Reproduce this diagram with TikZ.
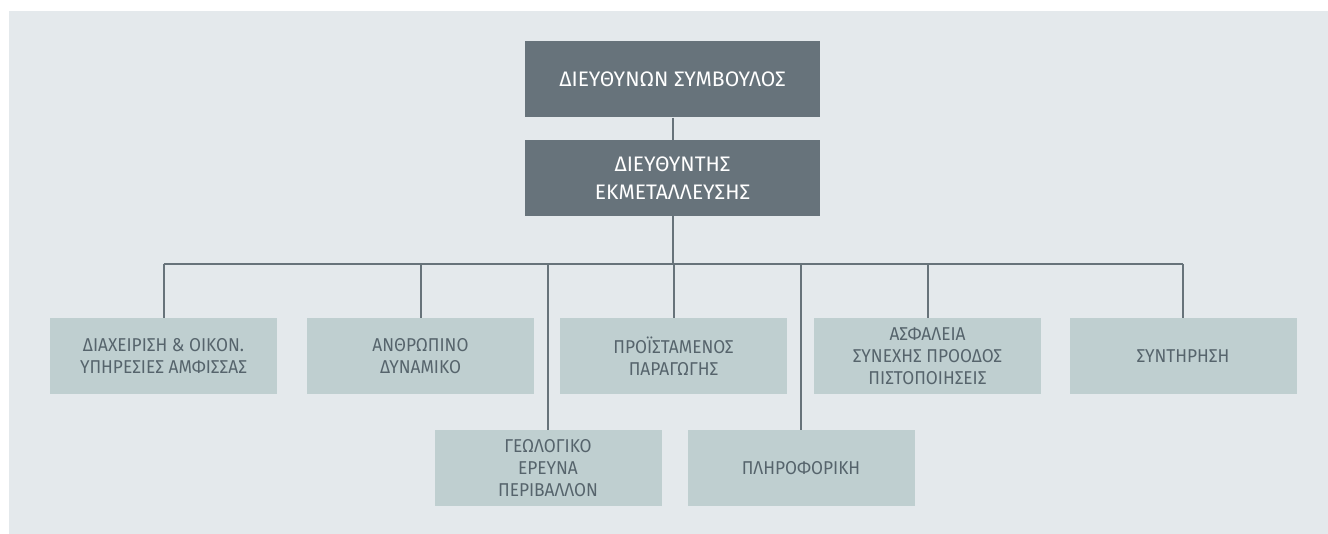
\documentclass[tikz,border=0pt]{standalone}
\usepackage{fontspec}
\setmainfont{Fira Sans}[FakeStretch=0.93]
\newfontfamily\headfont{Fira Sans}
\usepackage{xcolor}
\definecolor{bgcol}{HTML}{E4E9EC}
\definecolor{darkcol}{HTML}{67737B}
\definecolor{lightcol}{HTML}{BFCFD0}
\definecolor{textcol}{HTML}{56646C}
\definecolor{linecol}{HTML}{67737A}

\begin{document}
\begin{tikzpicture}[x=1pt,y=-1pt,
    headbox/.style={fill=darkcol,text=white,minimum width=295pt,minimum height=76pt,
        align=center,inner sep=0pt,font=\headfont\fontsize{21}{28}\selectfont},
    unitbox/.style={fill=lightcol,text=textcol,minimum width=227pt,minimum height=76pt,
        align=center,inner sep=0pt,font=\fontsize{18.6}{22}\selectfont},
    link/.style={draw=linecol,line width=2pt}]
\useasboundingbox (0,0) rectangle (1328,534);
\fill[bgcol] (9,11) rectangle (1328,534);

%top boxes
\node[headbox] (ceo) at (672.5,79.5){ΔΙΕΥΘΥΝΩΝ ΣΥΜΒΟΥΛΟΣ};
\node[headbox] (ops) at (672.5,178){ΔΙΕΥΘΥΝΤΗΣ\\ΕΚΜΕΤΑΛΛΕΥΣΗΣ};
%first row
\node[unitbox] (adm) at (163.5,356){ΔΙΑΧΕΙΡΙΣΗ \& ΟΙΚΟΝ.\\ΥΠΗΡΕΣΙΕΣ ΑΜΦΙΣΣΑΣ};
\node[unitbox] (hr) at (420.5,356){ΑΝΘΡΩΠΙΝΟ\\ΔΥΝΑΜΙΚΟ};
\node[unitbox] (prod) at (673.5,356){ΠΡΟΪΣΤΑΜΕΝΟΣ\\ΠΑΡΑΓΩΓΗΣ};
\node[unitbox] (safe) at (927.5,356){ΑΣΦΑΛΕΙΑ\\ΣΥΝΕΧΗΣ ΠΡΟΟΔΟΣ\\ΠΙΣΤΟΠΟΙΗΣΕΙΣ};
\node[unitbox] (maint) at (1183,356){ΣΥΝΤΗΡΗΣΗ};
%second row
\node[unitbox] (geo) at (548,468){ΓΕΩΛΟΓΙΚΟ\\ΕΡΕΥΝΑ\\ΠΕΡΙΒΑΛΛΟΝ};
\node[unitbox] (it) at (801,468){ΠΛΗΡΟΦΟΡΙΚΗ};

\coordinate (bus) at (672.5,264);
\begin{scope}[link]
%vertical edges
\draw (ceo) -- (ops);
\draw (ops) -- (bus);
%bus line
\draw (adm.north |- bus) -- (maint.north |- bus);
%drops
\draw (adm.north |- bus) -- (adm.north);
\draw (hr.north |- bus) -- (hr.north);
\draw (geo.north |- bus) -- (geo.north);
\draw (prod.north |- bus) -- (prod.north);
\draw (it.north |- bus) -- (it.north);
\draw (safe.north |- bus) -- (safe.north);
\draw (maint.north |- bus) -- (maint.north);
\end{scope}
\end{tikzpicture}
\end{document}
